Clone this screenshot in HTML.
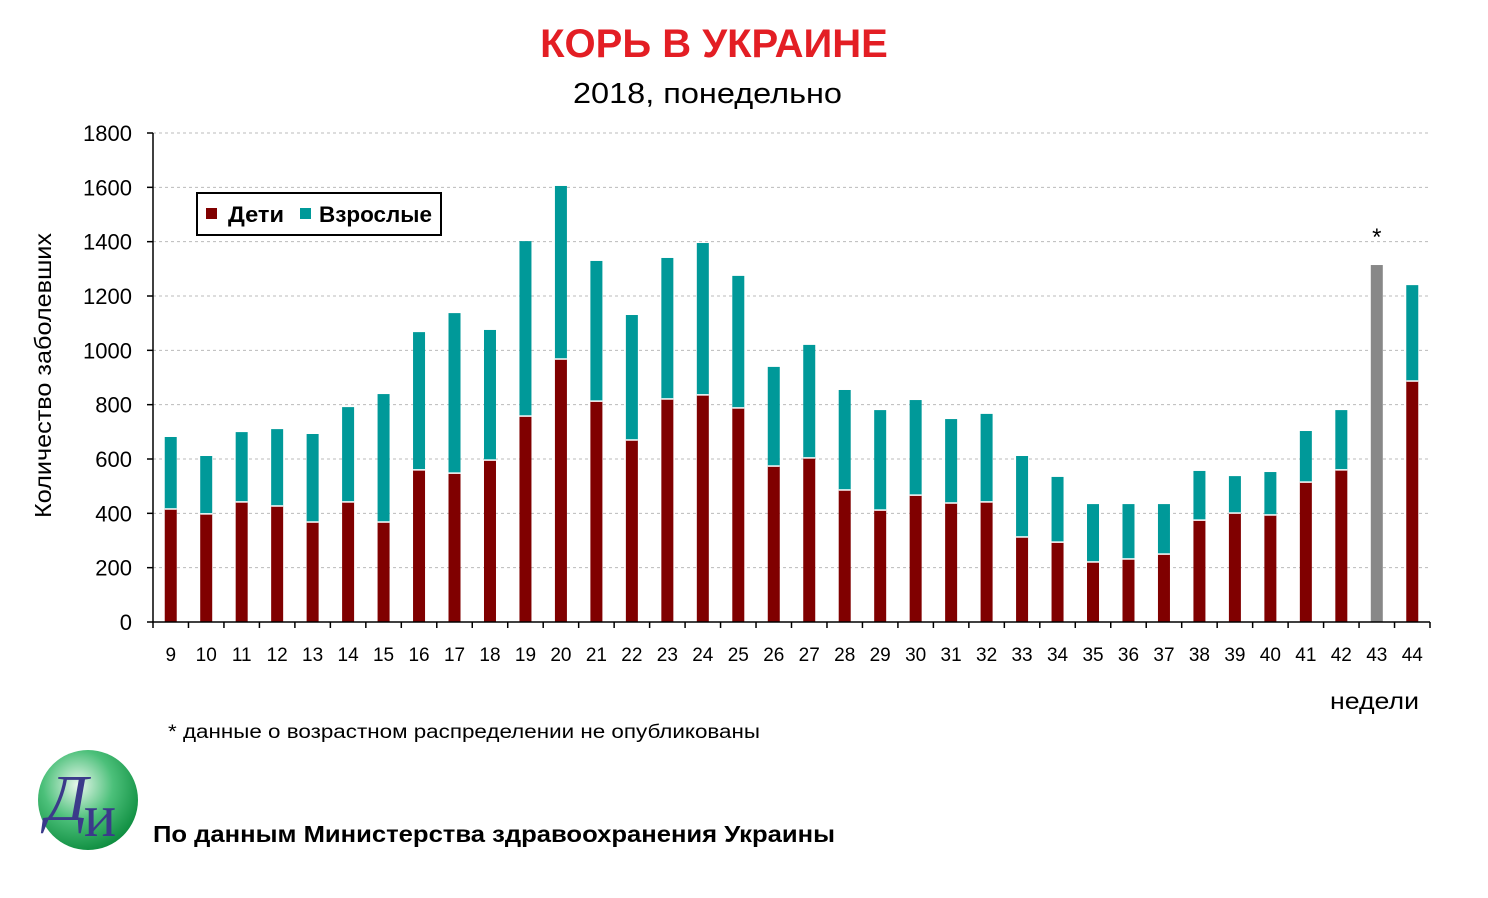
<!DOCTYPE html>
<html><head><meta charset="utf-8">
<style>
body{margin:0;background:#fff;width:1488px;height:898px;overflow:hidden;font-family:"Liberation Sans","DejaVu Sans",sans-serif}
svg{position:absolute;left:0;top:0}
</style></head>
<body>
<svg id="chart" width="1488" height="898">
<defs>
<radialGradient id="lg" cx="0.4" cy="0.35" r="0.7">
<stop offset="0" stop-color="#e8f8ec"/><stop offset="0.5" stop-color="#4cc07a"/><stop offset="1" stop-color="#0a8a3c"/>
</radialGradient>
</defs>
<text x="714" y="57" text-anchor="middle" font-size="40" font-weight="bold" fill="#e31e24">КОРЬ В УКРАИНЕ</text>
<text x="573" y="103" textLength="269" lengthAdjust="spacingAndGlyphs" font-size="29" fill="#000">2018, понедельно</text>
<g id="grid"></g>
<g id="bars"></g>
<g id="axes"></g>
<text transform="translate(51,518) rotate(-90)" textLength="285" lengthAdjust="spacingAndGlyphs" font-size="23" fill="#000">Количество  заболевших</text>
<text x="1330" y="709" textLength="89" lengthAdjust="spacingAndGlyphs" font-size="23" fill="#000">недели</text>
<g>
<rect x="197" y="193" width="244" height="42" fill="#fff" stroke="#000" stroke-width="2"/>
<rect x="206" y="208" width="11" height="11" fill="#800000"/>
<text x="228" y="222" textLength="56" lengthAdjust="spacingAndGlyphs" font-size="22" font-weight="bold">Дети</text>
<rect x="300" y="208" width="11" height="11" fill="#009999"/>
<text x="319" y="222" textLength="113" lengthAdjust="spacingAndGlyphs" font-size="22" font-weight="bold">Взрослые</text>
</g>
<text x="168" y="738" textLength="592" lengthAdjust="spacingAndGlyphs" font-size="19" fill="#000">* данные о возрастном распределении не опубликованы</text>
<g>
<circle cx="88" cy="800" r="50" fill="url(#lg)"/>
<text x="46" y="820" font-family="Liberation Serif,serif" font-size="66" fill="#3b3a8a" font-style="italic">Д</text>
<text x="84" y="836" font-family="Liberation Serif,serif" font-size="60" fill="#3b3a8a">и</text>
</g>
<text x="153" y="842" textLength="682" lengthAdjust="spacingAndGlyphs" font-size="23" font-weight="bold" fill="#000">По данным Министерства здравоохранения Украины</text>
</svg>
<script>
const weeks=[9,10,11,12,13,14,15,16,17,18,19,20,21,22,23,24,25,26,27,28,29,30,31,32,33,34,35,36,37,38,39,40,41,42,43,44];
const totals=[681,611,699,710,692,791,839,1067,1137,1075,1402,1605,1329,1130,1340,1395,1274,939,1020,854,780,817,747,766,611,534,434,434,434,556,537,552,703,780,1314,1240];
const children=[416,398,442,427,368,442,368,560,548,596,758,968,813,670,821,836,788,574,604,486,412,467,438,442,313,294,221,232,250,375,401,394,515,560,null,887];
const yTicks=[0,200,400,600,800,1000,1200,1400,1600,1800];
const NS="http://www.w3.org/2000/svg";
const x0=153,x1=1430,y0=622,y1=133,yMax=1800;
const bw=(x1-x0)/weeks.length;
function y(v){return y0-(v/yMax)*(y0-y1);}
function xc(i){return x0+bw*(i+0.5);}
function mk(t,a,p){const e=document.createElementNS(NS,t);for(const k in a)e.setAttribute(k,a[k]);p.appendChild(e);return e;}
const grid=document.getElementById('grid'),bars=document.getElementById('bars'),axes=document.getElementById('axes');
yTicks.forEach(v=>{
 if(v>0){const g=mk('line',{x1:x0,x2:x1,y1:y(v),y2:y(v),stroke:'#bbb','stroke-dasharray':'3,3'},grid);
 
 }
 const t=mk('text',{x:132,y:y(v)+8,'text-anchor':'end','font-size':22},axes);t.textContent=v;
 
 
 mk('line',{x1:x0-6,x2:x0,y1:y(v),y2:y(v),stroke:'#000','stroke-width':1.5},axes);
});
mk('line',{x1:x0,x2:x0,y1:y1,y2:y0,stroke:'#000','stroke-width':1.5},axes);
mk('line',{x1:x0,x2:x1,y1:y0,y2:y0,stroke:'#000','stroke-width':1.5},axes);
weeks.forEach((w,i)=>{
 mk('line',{x1:x0+bw*i,x2:x0+bw*i,y1:y0,y2:y0+6,stroke:'#000','stroke-width':1.5},axes);
 const t=mk('text',{x:xc(i),y:661,'text-anchor':'middle','font-size':19},axes);t.textContent=w;
 
 
 const W=12,bx=xc(i)-W/2;
 if(children[i]==null){
  const b=mk('rect',{x:bx,y:y(totals[i]),width:W,height:y0-y(totals[i]),fill:'#888'},bars);
  
  
  const s=mk('text',{x:xc(i),y:y(totals[i])-20,'text-anchor':'middle','font-size':24},bars);s.textContent='*';
  
  
 }else{
  const a=mk('rect',{x:bx,y:y(totals[i]),width:W,height:y(children[i])-y(totals[i]),fill:'#009999'},bars);
  
  
  const c=mk('rect',{x:bx,y:y(children[i]),width:W,height:y0-y(children[i]),fill:'#800000'},bars);
  
  
  mk('line',{x1:bx,x2:bx+W,y1:y(children[i]),y2:y(children[i]),stroke:'#fff','stroke-width':1.5},bars);
 }
});
mk('line',{x1:x1,x2:x1,y1:y0,y2:y0+6,stroke:'#000','stroke-width':1.5},axes);
</script>
</body></html>
